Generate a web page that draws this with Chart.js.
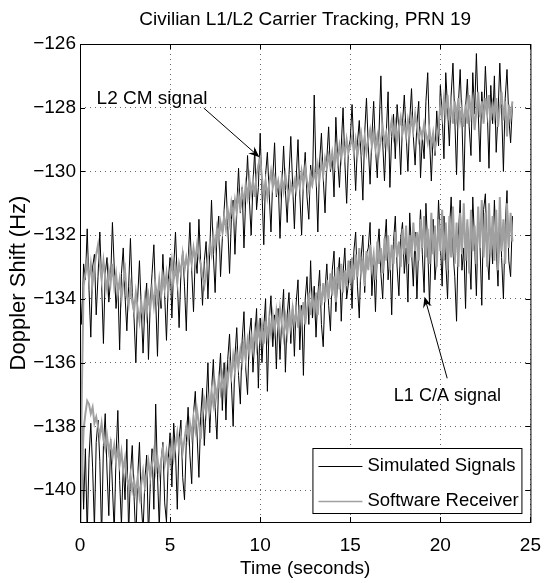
<!DOCTYPE html>
<html>
<head>
<meta charset="utf-8">
<title>Civilian L1/L2 Carrier Tracking, PRN 19</title>
<script src="https://cdn.jsdelivr.net/npm/chart.js@4.4.1/dist/chart.umd.min.js"></script>
<style>
  html, body { margin: 0; padding: 0; background: #fff; }
  #wrap { width: 553px; height: 583px; }
</style>
</head>
<body>
<div id="wrap"><canvas id="dopplerChart" width="553" height="583"></canvas></div>
<script>
// ========== DATA ==========
// samples every 0.1 s from t = 0 to t = 24 s
const SAMPLE_STEP = 0.1;

const xTicks = [0, 5, 10, 15, 20, 25];
const yTicks = [-140, -138, -136, -134, -132, -130, -128, -126];
const seriesNames = ['Simulated Signals', 'Software Receiver'];

// L2 CM signal, software receiver (grey)
const l2Receiver = [
  -141.5, -137.0, -133.6, -133.2, -132.8, -133.4, -132.9, -133.5, -133.0, -132.6,
  -132.3, -132.9, -133.4, -132.8, -133.3, -133.7, -133.1, -133.5, -132.9, -133.6,
  -133.2, -133.8, -133.4, -134.0, -133.5, -133.1, -133.9, -134.2, -133.6, -134.1,
  -134.4, -133.8, -134.3, -134.7, -134.1, -134.6, -134.0, -134.5, -133.9, -134.3,
  -133.7, -134.2, -133.6, -134.0, -133.4, -133.9, -133.3, -133.7, -133.2, -133.8,
  -133.3, -132.8, -133.4, -133.0, -133.5, -132.9, -133.2, -132.6, -133.1, -132.7,
  -133.0, -132.5, -132.9, -132.4, -132.8, -132.3, -132.7, -132.9, -133.3, -133.6,
  -133.2, -132.7, -132.3, -132.6, -132.0, -132.4, -131.8, -132.2, -131.6, -131.9,
  -131.4, -131.8, -131.2, -131.6, -131.0, -131.4, -130.9, -131.3, -130.7, -131.1,
  -130.6, -131.0, -130.4, -130.8, -130.2, -130.7, -130.3, -130.8, -130.1, -129.8,
  -129.6, -130.2, -130.7, -130.3, -130.8, -130.4, -130.0, -130.5, -130.2, -130.6,
  -130.3, -130.7, -130.2, -130.6, -130.1, -130.5, -130.8, -130.4, -130.7, -130.3,
  -130.6, -130.2, -130.5, -130.0, -130.4, -129.9, -130.3, -130.6, -130.1, -130.4,
  -130.0, -130.3, -129.8, -130.2, -129.7, -130.1, -129.6, -129.9, -129.5, -129.8,
  -129.4, -129.8, -129.3, -129.7, -129.2, -129.6, -129.1, -129.5, -129.0, -129.4,
  -129.2, -128.9, -129.4, -129.0, -129.5, -129.1, -128.8, -129.3, -128.9, -129.4,
  -129.0, -128.7, -129.2, -128.8, -129.3, -128.9, -129.4, -129.0, -128.6, -129.1,
  -128.8, -129.2, -128.7, -128.4, -128.9, -128.5, -129.0, -128.6, -128.3, -128.8,
  -128.5, -128.9, -128.4, -128.8, -128.3, -128.7, -128.2, -128.6, -129.0, -128.7,
  -128.9, -128.5, -128.8, -129.1, -128.7, -129.2, -128.8, -129.3, -129.0, -128.6,
  -127.9, -128.3, -127.7, -128.2, -127.6, -128.4, -127.9, -128.5, -127.8, -128.3,
  -127.7, -128.4, -128.0, -128.6, -127.9, -128.5, -127.6, -128.2, -127.8, -128.7,
  -128.1, -127.5, -128.3, -127.8, -128.5, -127.7, -128.2, -127.6, -128.4, -127.9,
  -128.3, -127.7, -128.6, -128.0, -127.5, -128.4, -127.8, -128.9, -127.9, -128.3,
  -127.8
];

// L2 CM signal, simulated (black)
const l2Simulated = [
  -133.6, -134.8, -132.9, -133.4, -131.8, -133.7, -135.2, -133.0, -132.6, -134.5,
  -133.3, -131.9, -133.5, -135.4, -133.2, -132.7, -134.1, -133.4, -131.6, -133.0,
  -134.3, -133.5, -135.6, -133.2, -132.4, -133.9, -135.0, -133.6, -132.1, -133.8,
  -134.6, -136.0, -134.0, -132.8, -134.3, -135.7, -134.2, -133.5, -135.9, -134.1,
  -133.2, -132.3, -134.0, -135.8, -133.6, -134.3, -132.6, -133.9, -135.3, -133.4,
  -132.7, -134.6, -133.0, -131.9, -133.4, -134.9, -133.2, -132.5, -133.6, -135.0,
  -132.9, -131.6, -133.1, -134.4, -132.6, -133.2, -131.5, -132.9, -134.2, -132.8,
  -132.2, -134.0, -132.5, -130.9, -132.6, -133.8, -132.0, -131.4, -133.3, -132.1,
  -131.2, -130.3, -131.7, -133.2, -131.5, -130.9, -132.6, -131.1, -129.9, -131.3,
  -130.5, -132.4, -130.8, -129.5, -130.9, -132.0, -130.4, -129.3, -131.2, -130.5,
  -128.8, -130.6, -132.3, -130.1, -129.4, -130.7, -131.9, -130.2, -129.1, -130.8,
  -130.3, -132.1, -130.5, -129.2, -130.6, -131.6, -130.1, -128.9, -130.4, -131.8,
  -130.2, -129.0, -130.7, -132.0, -130.3, -129.4, -130.8, -131.5, -129.8, -130.5,
  -127.6, -130.1, -131.9, -129.7, -128.8, -130.2, -131.3, -129.6, -128.6, -130.0,
  -129.5, -130.8, -128.3, -129.6, -130.5, -129.2, -128.0, -129.7, -131.0, -129.3,
  -129.0, -127.9, -129.3, -130.6, -129.1, -128.4, -129.5, -130.9, -128.8, -127.7,
  -129.2, -130.4, -128.9, -127.8, -129.3, -130.2, -128.7, -127.0, -129.1, -130.3,
  -128.8, -127.5, -130.5, -128.9, -128.2, -129.6, -127.9, -128.7, -130.1, -128.5,
  -127.6, -128.8, -130.0, -128.4, -127.4, -128.9, -129.8, -128.5, -127.8, -130.2,
  -128.9, -129.6, -127.8, -126.9, -129.0, -130.3, -128.8, -129.5, -128.1, -129.2,
  -127.3, -128.2, -129.6, -126.9, -128.0, -129.2, -127.6, -126.6, -128.3, -130.1,
  -127.9, -126.8, -128.4, -130.6, -128.0, -127.1, -128.6, -129.5, -126.9, -128.2,
  -126.3, -128.1, -129.7, -127.5, -128.4, -126.7, -128.0, -129.9, -127.3, -128.5,
  -127.0, -129.4, -128.2, -126.6, -128.0, -130.0, -127.7, -126.8, -128.3, -129.1,
  -127.9
];

// L1 C/A signal, software receiver (grey)
const l1Receiver = [
  -141.5, -139.6, -138.1, -137.6, -137.2, -137.3, -137.6, -137.4, -137.9, -137.7,
  -138.0, -138.3, -137.9, -138.4, -138.7, -138.3, -138.8, -138.5, -139.0, -138.6,
  -139.1, -138.7, -139.2, -138.8, -139.4, -139.0, -139.6, -139.9, -139.5, -140.0,
  -139.7, -140.1, -139.6, -140.2, -139.8, -139.4, -139.9, -139.5, -139.1, -139.6,
  -139.2, -138.8, -139.4, -139.0, -139.5, -139.1, -138.7, -139.2, -138.8, -139.3,
  -138.9, -138.5, -139.0, -138.6, -138.2, -138.7, -138.3, -138.8, -138.4, -138.0,
  -138.4, -137.9, -138.3, -137.7, -138.1, -137.5, -137.9, -138.4, -137.6, -137.2,
  -137.6, -137.1, -137.5, -136.9, -137.3, -136.7, -137.1, -136.5, -136.9, -136.4,
  -136.8, -136.2, -136.6, -136.0, -136.4, -135.8, -136.3, -135.7, -136.1, -135.6,
  -136.0, -135.4, -135.9, -135.3, -135.7, -135.2, -135.6, -135.0, -135.5, -134.9,
  -135.3, -134.8, -135.4, -134.7, -135.2, -134.6, -135.1, -134.5, -135.0, -134.4,
  -134.9, -134.3, -134.8, -135.2, -134.6, -135.1, -134.5, -134.9, -134.3, -134.8,
  -134.4, -134.9, -134.2, -134.7, -134.1, -134.8, -134.3, -133.8, -134.5, -133.9,
  -134.4, -133.8, -134.5, -133.6, -134.2, -133.5, -134.1, -133.4, -134.0, -133.2,
  -133.9, -133.3, -134.1, -133.0, -133.7, -132.9, -133.8, -133.1, -133.6, -132.8,
  -133.5, -132.7, -133.4, -132.6, -133.3, -132.4, -133.2, -132.8, -133.6, -132.5,
  -133.1, -132.3, -133.0, -132.6, -133.4, -132.2, -132.9, -132.4, -133.2, -132.1,
  -132.8, -132.0, -133.1, -132.3, -132.9, -131.9, -132.7, -132.2, -133.0, -131.8,
  -132.6, -131.7, -132.9, -132.0, -132.7, -131.6, -132.5, -131.9, -132.8, -131.5,
  -132.4, -131.4, -132.7, -131.8, -132.9, -131.3, -132.6, -131.7, -133.0, -131.5,
  -132.5, -131.2, -132.8, -131.6, -133.1, -131.4, -132.7, -131.1, -132.9, -131.6,
  -133.0, -131.3, -132.6, -131.0, -132.8, -131.5, -133.2, -131.2, -132.5, -131.7,
  -132.9, -131.1, -132.4, -130.9, -132.7, -131.3, -133.0, -131.0, -132.6, -131.4,
  -132.8, -131.2, -133.1, -130.8, -132.5, -131.5, -132.9, -131.0, -132.4, -131.3,
  -132.2
];

// L1 C/A signal, simulated (black)
const l1Simulated = [
  -139.4, -138.0, -140.6, -138.7, -141.4, -139.0, -137.9, -139.3, -141.2, -138.5,
  -137.8, -139.1, -141.5, -138.6, -137.6, -139.4, -140.8, -138.4, -139.9, -141.3,
  -138.9, -137.5, -139.7, -141.1, -139.2, -140.3, -138.4, -141.4, -139.5, -138.6,
  -140.2, -141.6, -139.6, -138.5, -140.4, -141.3, -139.7, -138.9, -141.5, -139.8,
  -138.7, -140.6, -137.3, -139.5, -141.2, -139.1, -138.5, -140.4, -141.0, -139.0,
  -138.2, -139.9, -137.9, -138.8, -140.6, -138.4, -137.8, -139.6, -140.3, -138.5,
  -137.4, -138.9, -139.8, -137.6, -136.9, -138.3, -139.6, -137.7, -136.8, -138.6,
  -137.3, -136.0, -138.2, -136.9, -135.9, -137.4, -138.4, -136.6, -135.7, -137.5,
  -136.0, -137.8, -135.9, -135.1, -136.6, -138.0, -135.8, -134.9, -136.4, -137.3,
  -135.3, -134.4, -136.2, -137.0, -135.1, -134.6, -136.3, -135.2, -134.3, -136.8,
  -134.6, -136.0, -134.9, -134.0, -136.9, -134.7, -133.9, -135.5, -134.5, -136.2,
  -134.3, -135.9, -134.6, -133.7, -136.3, -134.5, -133.8, -135.4, -134.2, -135.8,
  -134.1, -133.4, -135.6, -134.2, -136.4, -134.0, -133.3, -134.8, -132.8, -134.6,
  -133.6, -135.2, -133.9, -133.1, -134.8, -135.5, -133.7, -132.9, -134.2, -135.0,
  -133.1, -132.5, -134.4, -133.4, -132.7, -134.7, -133.2, -132.4, -134.0, -133.5,
  -132.8, -134.3, -132.5, -131.9, -133.6, -134.6, -132.7, -132.0, -133.8, -132.6,
  -132.4, -131.6, -133.9, -132.8, -134.4, -132.5, -131.8, -133.2, -134.0, -132.3,
  -131.5, -133.4, -132.6, -134.5, -132.2, -131.4, -133.0, -133.9, -132.1, -131.6,
  -133.2, -132.4, -134.1, -131.3, -132.5, -133.6, -131.9, -134.0, -132.3, -131.2,
  -132.6, -133.8, -131.0, -132.4, -134.2, -132.1, -131.5, -133.4, -132.7, -130.9,
  -132.2, -133.6, -131.4, -132.8, -134.0, -131.9, -130.8, -132.5, -133.3, -134.7,
  -132.0, -130.9, -133.1, -132.4, -134.3, -131.6, -132.5, -133.7, -130.8, -132.2,
  -133.9, -131.5, -132.3, -134.2, -131.2, -130.7, -132.6, -133.4, -131.8, -132.9,
  -130.9, -132.4, -133.6, -131.3, -132.7, -134.0, -131.7, -130.6, -132.8, -133.3,
  -131.4
];

// text annotations, in data coordinates
const l2Note = { text: 'L2 CM signal', size: 19, at: [0.92, -127.88], from: [6.87, -128.01], to: [9.96, -129.55] };
const l1Note = { text: 'L1 C/A signal', size: 18, at: [17.42, -137.19], from: [20.38, -136.49], to: [19.12, -133.93] };
// ========== DATA END ==========

const FONT = "'Liberation Sans', Arial, Helvetica, sans-serif";
const BLACK = '#000000';
const GREY = '#a0a0a0';

function toPoints(values) {
  return values.map((v, i) => ({ x: i * SAMPLE_STEP, y: v }));
}

function minusLabel(v) {
  return v < 0 ? '\u2212' + Math.abs(v) : String(v);
}

// --- box, inward ticks, title, annotations and legend ---
const matlabFrame = {
  id: 'matlabFrame',
  afterDraw(chart) {
    const { ctx, chartArea: a, scales: { x, y } } = chart;
    ctx.save();

    ctx.strokeStyle = BLACK;
    ctx.lineWidth = 1;
    ctx.strokeRect(a.left + 0.5, a.top + 0.5, a.right - a.left, a.bottom - a.top);

    const tl = 5;
    ctx.beginPath();
    xTicks.forEach(v => {
      const px = Math.round(x.getPixelForValue(v)) + 0.5;
      ctx.moveTo(px, a.bottom); ctx.lineTo(px, a.bottom - tl);
      ctx.moveTo(px, a.top); ctx.lineTo(px, a.top + tl);
    });
    yTicks.forEach(v => {
      const py = Math.round(y.getPixelForValue(v)) + 0.5;
      ctx.moveTo(a.left, py); ctx.lineTo(a.left + tl, py);
      ctx.moveTo(a.right, py); ctx.lineTo(a.right - tl, py);
    });
    ctx.stroke();

    // title
    ctx.fillStyle = BLACK;
    ctx.font = `19px ${FONT}`;
    ctx.textAlign = 'center';
    ctx.textBaseline = 'alphabetic';
    ctx.fillText('Civilian L1/L2 Carrier Tracking, PRN 19', (a.left + a.right) / 2, 25);

    // annotations
    ctx.textAlign = 'left';
    [l2Note, l1Note].forEach(n => {
      ctx.font = `${n.size}px ${FONT}`;
      ctx.fillText(n.text, x.getPixelForValue(n.at[0]), y.getPixelForValue(n.at[1]));
      drawArrow(ctx,
        x.getPixelForValue(n.from[0]), y.getPixelForValue(n.from[1]),
        x.getPixelForValue(n.to[0]), y.getPixelForValue(n.to[1]));
    });

    // legend
    const w = 209, h = 65;
    const bx = a.right - 9 - w, by = a.bottom - 9 - h;
    ctx.fillStyle = '#fff';
    ctx.fillRect(bx, by, w, h);
    ctx.strokeStyle = BLACK;
    ctx.lineWidth = 1;
    ctx.strokeRect(bx + 0.5, by + 0.5, w, h);
    const rows = [
      { label: seriesNames[0], color: BLACK, width: 1, yy: by + 18 },
      { label: seriesNames[1], color: GREY, width: 1.6, yy: by + 53 }
    ];
    ctx.font = `18.5px ${FONT}`;
    ctx.textBaseline = 'middle';
    rows.forEach(r => {
      ctx.strokeStyle = r.color;
      ctx.lineWidth = r.width;
      ctx.beginPath();
      ctx.moveTo(bx + 6, r.yy + 0.5);
      ctx.lineTo(bx + 50, r.yy + 0.5);
      ctx.stroke();
      ctx.fillStyle = BLACK;
      ctx.fillText(r.label, bx + 55, r.yy);
    });
    ctx.restore();
  }
};

function drawArrow(ctx, x0, y0, x1, y1) {
  const ang = Math.atan2(y1 - y0, x1 - x0);
  const len = 11, half = 4.5;
  ctx.strokeStyle = BLACK;
  ctx.lineWidth = 1;
  ctx.beginPath();
  ctx.moveTo(x0, y0);
  ctx.lineTo(x1 - Math.cos(ang) * 6, y1 - Math.sin(ang) * 6);
  ctx.stroke();
  const bx = x1 - Math.cos(ang) * len, by = y1 - Math.sin(ang) * len;
  const nx = -Math.sin(ang) * half, ny = Math.cos(ang) * half;
  ctx.fillStyle = BLACK;
  ctx.beginPath();
  ctx.moveTo(x1, y1);
  ctx.lineTo(bx + nx, by + ny);
  ctx.lineTo(x1 - Math.cos(ang) * 7, y1 - Math.sin(ang) * 7);
  ctx.lineTo(bx - nx, by - ny);
  ctx.closePath();
  ctx.fill();
}

// --- Chart ---
const ctx = document.getElementById('dopplerChart').getContext('2d');
new Chart(ctx, {
  type: 'line',
  data: {
    datasets: [
      { label: seriesNames[1], data: toPoints(l2Receiver), borderColor: GREY, borderWidth: 2 },
      { label: seriesNames[1], data: toPoints(l1Receiver), borderColor: GREY, borderWidth: 2 },
      { label: seriesNames[0], data: toPoints(l2Simulated), borderColor: BLACK, borderWidth: 1 },
      { label: seriesNames[0], data: toPoints(l1Simulated), borderColor: BLACK, borderWidth: 1 }
    ]
  },
  options: {
    responsive: false,
    devicePixelRatio: 1,
    animation: false,
    events: [],
    elements: {
      point: { radius: 0 },
      line: { tension: 0, fill: false }
    },
    layout: { padding: { top: 44, right: 11, bottom: 0, left: 0 } },
    plugins: { legend: { display: false }, tooltip: { enabled: false } },
    scales: {
      x: {
        type: 'linear',
        min: 0,
        max: 25,
        afterBuildTicks: s => { s.ticks = xTicks.map(v => ({ value: v })); },
        afterFit: s => { s.height = 61; },
        grid: { color: 'rgba(0,0,0,0.6)', lineWidth: 1, drawTicks: false },
        border: { display: false, dash: [1, 4] },
        ticks: {
          autoSkip: false, maxRotation: 0, padding: 12, color: BLACK,
          font: { family: FONT, size: 19 },
          callback: v => minusLabel(v)
        },
        title: {
          display: true, text: 'Time (seconds)', color: BLACK,
          font: { family: FONT, size: 19 },
          padding: { top: 0, bottom: 3 }
        }
      },
      y: {
        min: -141,
        max: -126,
        afterBuildTicks: s => { s.ticks = yTicks.map(v => ({ value: v })); },
        afterFit: s => { s.width = 80; },
        grid: { color: 'rgba(0,0,0,0.6)', lineWidth: 1, drawTicks: false },
        border: { display: false, dash: [1, 4] },
        ticks: {
          autoSkip: false, padding: 4, color: BLACK,
          font: { family: FONT, size: 19 },
          callback: v => minusLabel(v)
        },
        title: {
          display: true, text: 'Doppler Shift (Hz)', color: BLACK,
          font: { family: FONT, size: 22 },
          padding: { top: 6, bottom: 0 }
        }
      }
    }
  },
  plugins: [matlabFrame]
});
</script>
</body>
</html>
